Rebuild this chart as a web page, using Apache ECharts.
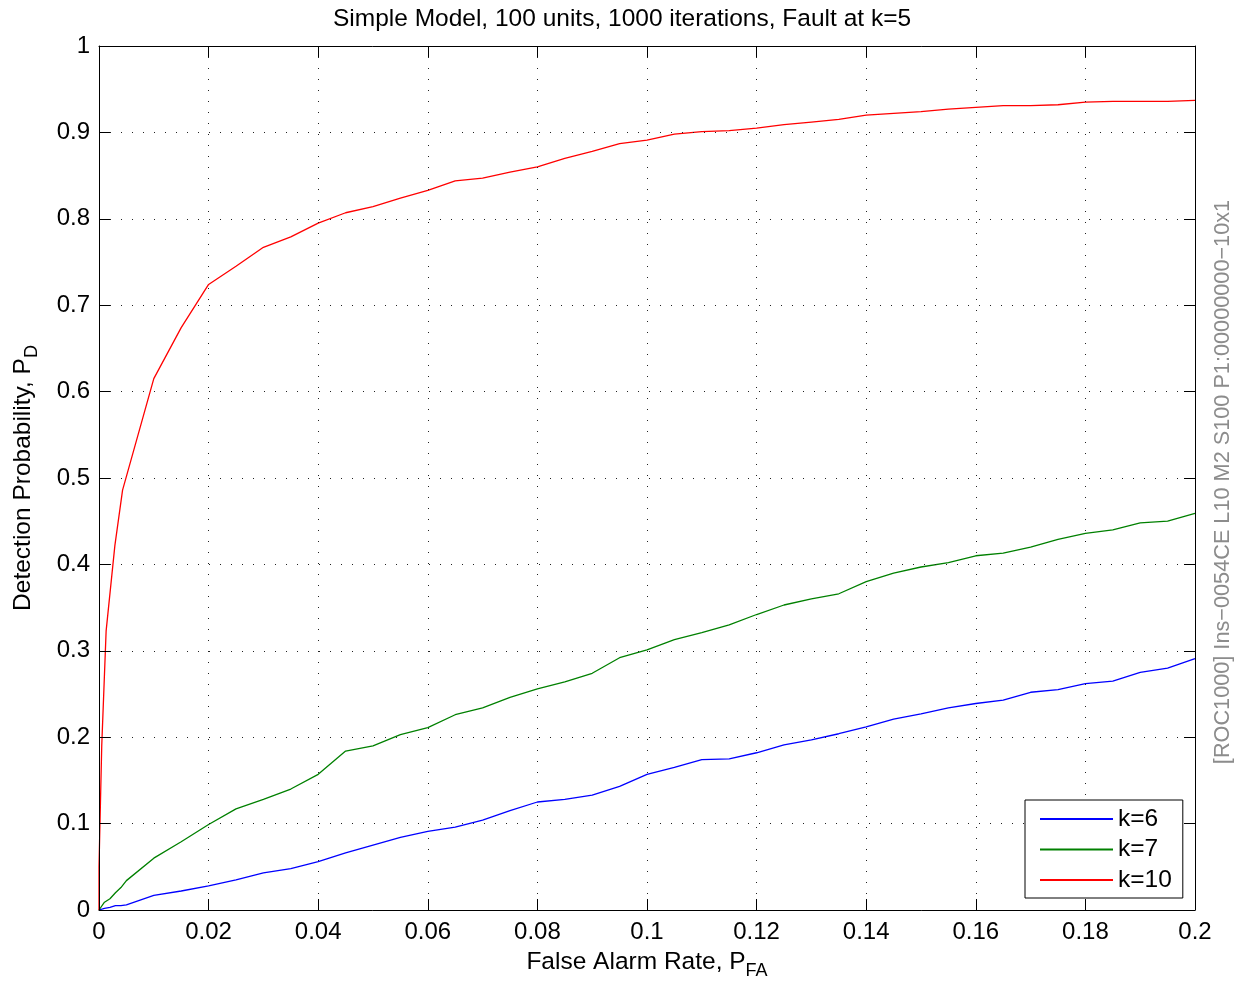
<!DOCTYPE html>
<html>
<head>
<meta charset="utf-8">
<script src="https://cdn.jsdelivr.net/npm/echarts@6/dist/echarts.min.js"></script>
<style>
  html, body { margin: 0; padding: 0; background: #fff; }
  #chart { width: 1244px; height: 984px; }
</style>
</head>
<body>
<div id="chart"></div>
<script>
// ROC curves: detection probability vs false alarm rate for three k settings
const xTicks = [0, 0.02, 0.04, 0.06, 0.08, 0.1, 0.12, 0.14, 0.16, 0.18, 0.2];
const yTicks = [0, 0.1, 0.2, 0.3, 0.4, 0.5, 0.6, 0.7, 0.8, 0.9, 1];

const pfaStep = [0.005, 0.01, 0.015, 0.02, 0.025, 0.03, 0.035, 0.04, 0.045, 0.05,
  0.055, 0.06, 0.065, 0.07, 0.075, 0.08, 0.085, 0.09, 0.095, 0.1,
  0.105, 0.11, 0.115, 0.12, 0.125, 0.13, 0.135, 0.14, 0.145, 0.15,
  0.155, 0.16, 0.165, 0.17, 0.175, 0.18, 0.185, 0.19, 0.195, 0.2];

// k=6
const pfaK6 = [0, 0.001, 0.002, 0.003, 0.004].concat(pfaStep);
const pdK6 = [0, 0.002, 0.003, 0.005, 0.005,
  0.006, 0.017, 0.022, 0.028, 0.035, 0.043, 0.048, 0.056, 0.066, 0.075,
  0.084, 0.091, 0.096, 0.104, 0.115, 0.125, 0.128, 0.133, 0.143, 0.157,
  0.165, 0.174, 0.175, 0.182, 0.191, 0.197, 0.204, 0.212, 0.221, 0.227,
  0.234, 0.239, 0.243, 0.252, 0.255, 0.262, 0.265, 0.275, 0.280, 0.291];

// k=7
const pfaK7 = [0, 0.001, 0.002, 0.003, 0.004].concat(pfaStep);
const pdK7 = [0, 0.009, 0.013, 0.020, 0.026,
  0.034, 0.060, 0.079, 0.099, 0.117, 0.128, 0.140, 0.157, 0.184, 0.190,
  0.203, 0.211, 0.226, 0.234, 0.246, 0.256, 0.264, 0.274, 0.292, 0.301,
  0.313, 0.321, 0.330, 0.342, 0.353, 0.360, 0.366, 0.380, 0.390, 0.397,
  0.402, 0.410, 0.413, 0.420, 0.429, 0.436, 0.440, 0.448, 0.450, 0.459];

// k=10
const pfaK10 = [0, 0, 0.0005, 0.0013, 0.0029, 0.0043].concat(pfaStep.slice(1));
const pdK10 = [0, 0.05, 0.19, 0.323, 0.422, 0.486,
  0.615, 0.674, 0.724, 0.745, 0.767, 0.779, 0.795, 0.807, 0.814,
  0.824, 0.833, 0.844, 0.847, 0.854, 0.860, 0.870, 0.878, 0.887, 0.891,
  0.898, 0.901, 0.902, 0.905, 0.909, 0.912, 0.915, 0.920, 0.922, 0.924,
  0.927, 0.929, 0.931, 0.931, 0.932, 0.935, 0.936, 0.936, 0.936, 0.937];

const seriesNames = ['k=6', 'k=7', 'k=10'];
const seriesColors = ['#0000ff', '#008000', '#ff0000'];

const pairs = (xs, ys) => xs.map((x, i) => [x, ys[i]]);
const lines = [pairs(pfaK6, pdK6), pairs(pfaK7, pdK7), pairs(pfaK10, pdK10)];

const FONT = 'Liberation Sans, Arial, Helvetica, sans-serif';
const gridDots = { color: '#222', width: 1, type: [1, 10] };

const chart = echarts.init(document.getElementById('chart'), null, { renderer: 'canvas' });

// solid box on all four sides with inward ticks
const frameAxis = {
  axisLine: { show: true, onZero: false, lineStyle: { color: '#000', width: 1 } },
  axisTick: { show: true, inside: true, length: 11, lineStyle: { color: '#000', width: 1 } },
};

const nameStyle = {
  color: '#000', fontSize: 24.5, fontFamily: FONT,
  rich: { sub: { fontSize: 18, fontFamily: FONT, color: '#000', padding: [18, 0, 0, 0] } }
};

chart.setOption({
  animation: false,
  backgroundColor: '#fff',
  textStyle: { fontFamily: FONT },
  title: {
    text: 'Simple Model, 100 units, 1000 iterations, Fault at k=5',
    left: 'center', top: 2,
    textStyle: { fontFamily: FONT, fontSize: 24.5, fontWeight: 'normal', color: '#000' }
  },
  grid: {
    left: 99, top: 46, width: 1096, height: 864,
    containLabel: false, outerBoundsMode: 'none'
  },
  legend: {
    data: seriesNames,
    orient: 'vertical',
    left: 1025, top: 800, z: 10,
    backgroundColor: '#fff',
    borderColor: '#000', borderWidth: 1,
    padding: [4, 11, 3, 15],
    itemGap: 0.5,
    itemWidth: 73, itemHeight: 2,
    icon: 'rect',
    textStyle: { fontFamily: FONT, fontSize: 24.5, color: '#000', lineHeight: 30 }
  },
  xAxis: [
    Object.assign({
      type: 'value', min: 0, max: 0.2, interval: 0.02, position: 'bottom', z: 5,
      axisLabel: { color: '#000', fontSize: 24, fontFamily: FONT, margin: 10,
        formatter: v => String(+v.toFixed(2)) },
      splitLine: { show: true, lineStyle: gridDots },
      name: 'False Alarm Rate, P{sub|FA}',
      nameLocation: 'middle', nameGap: 34,
      nameTextStyle: nameStyle
    }, frameAxis),
    Object.assign({
      type: 'value', min: 0, max: 0.2, interval: 0.02, position: 'top', z: 5,
      axisLabel: { show: false }, splitLine: { show: false }
    }, frameAxis)
  ],
  yAxis: [
    Object.assign({
      type: 'value', min: 0, max: 1, interval: 0.1, position: 'left', z: 5,
      axisLabel: { color: '#000', fontSize: 24, fontFamily: FONT, margin: 9,
        formatter: v => String(+v.toFixed(1)) },
      splitLine: { show: true, lineStyle: gridDots },
      name: 'Detection Probability, P{sub|D}',
      nameLocation: 'middle', nameGap: 58,
      nameTextStyle: nameStyle
    }, frameAxis),
    Object.assign({
      type: 'value', min: 0, max: 1, interval: 0.1, position: 'right', z: 5,
      axisLabel: { show: false }, splitLine: { show: false }
    }, frameAxis)
  ],
  series: seriesNames.map((name, i) => ({
    name,
    type: 'line',
    data: lines[i],
    showSymbol: false,
    symbol: 'none',
    clip: true,
    lineStyle: { color: seriesColors[i], width: 1.3 },
    itemStyle: { color: seriesColors[i] },
    emphasis: { disabled: true }
  })),
  graphic: [{
    type: 'text',
    x: 1223, y: 482,
    rotation: Math.PI / 2,
    style: {
      text: '[ROC1000] Ins\u22120054CE L10 M2 S100 P1:00000000\u221210x1',
      fontFamily: FONT, fontSize: 21.7, fill: '#8c8c8c',
      textAlign: 'center', textVerticalAlign: 'middle'
    }
  }]
});
</script>
</body>
</html>
